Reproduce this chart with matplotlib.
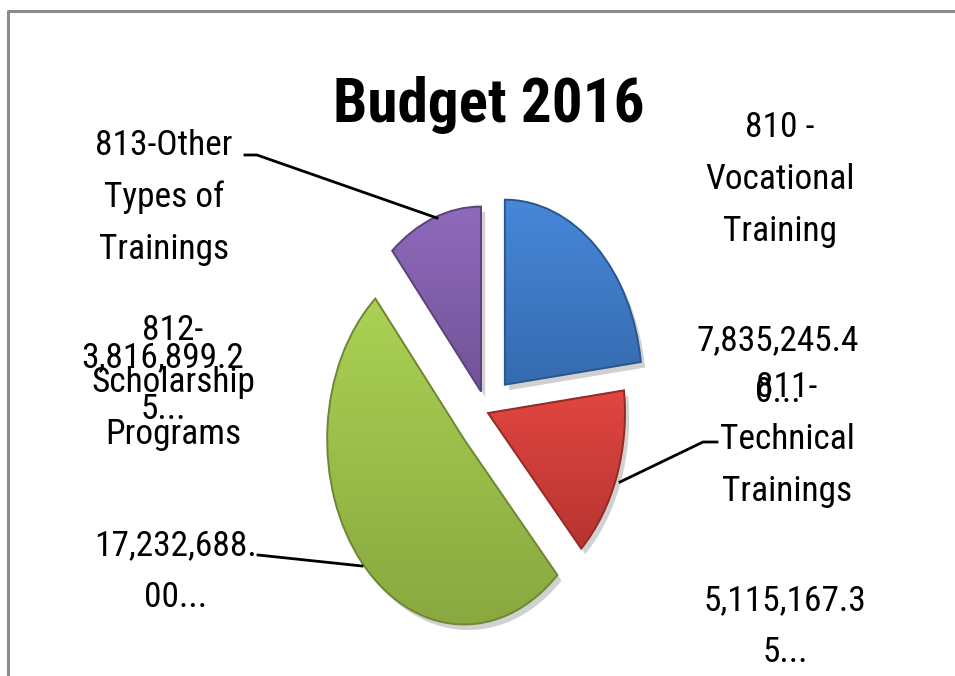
import numpy as np
import matplotlib
matplotlib.use('Agg')
import matplotlib.pyplot as plt
import matplotlib.patheffects as pe
from matplotlib.patches import PathPatch
from matplotlib.lines import Line2D
from matplotlib.colors import to_rgb
from matplotlib import font_manager

# data
names = ['810 -\nVocational\nTraining', '811-\nTechnical\nTrainings',
         '812-\nScholarship\nPrograms', '813-Other\nTypes of\nTrainings']
budget = [7835245.40, 5115167.35, 17232688.00, 3816899.25]
colors = ['#3B77C3', '#CB3A36', '#98BC47', '#7E5CA8']
explode = [0.2, 0.01, 0.22, 0.12]

W, H = 955, 676
have = {f.name for f in font_manager.fontManager.ttflist}
narrow = [f for f in ['Liberation Sans Narrow', 'Roboto Condensed', 'Open Sans Condensed']
          if f in have]
fam = (narrow[:1] or ['Liberation Sans']) + ['DejaVu Sans']

fig = plt.figure(figsize=(W / 100, H / 100), dpi=100)
ax = fig.add_axes([0, 0, 1, 1])

wedges, _ = ax.pie(budget, colors=colors, explode=explode, startangle=90,
                   counterclock=False, wedgeprops=dict(linewidth=0))

# excel-ish bevel: soft vertical gradient clipped to each slice + darker rim + shadow
for w, c in zip(wedges, colors):
    base = np.array(to_rgb(c))
    light = np.clip(base * 1.07 + 0.03, 0, 1)
    dark = base * 0.9
    t = np.linspace(0, 1, 64)[:, None, None]
    img = np.repeat(light * (1 - t) + dark * t, 2, axis=1)
    ext = w.get_path().get_extents()
    im = ax.imshow(img, extent=(ext.x0, ext.x1, ext.y0, ext.y1), aspect='auto',
                   interpolation='bilinear', zorder=2)
    im.set_clip_path(w)
    ax.add_patch(PathPatch(w.get_path(), fc='none', ec=base * 0.72, lw=1.4, zorder=3))
    w.set_path_effects([pe.SimplePatchShadow(offset=(3, -4), shadow_rgbFace='k', alpha=0.18),
                        pe.Normal()])

# squashed pie like the original (x and y scales differ)
cx, cy, sx, sy = 486.7, 412.4, 137.0, 185.0
ax.set_aspect('auto')
ax.set_xlim(-cx / sx, (W - cx) / sx)
ax.set_ylim((cy - H) / sy, cy / sy)
ax.axis('off')


def px(x, y):
    return x / W, 1 - y / H


def put(x, y, s, **kw):
    fx, fy = px(x, y)
    fig.text(fx, fy, s, ha='center', va='baseline', family=fam, **kw)


def leader(pts):
    xs, ys = zip(*[px(x, y) for x, y in pts])
    fig.add_artist(Line2D(xs, ys, transform=fig.transFigure, color='black', lw=2))


is_narrow = bool(narrow)
fs = 25.5 if is_narrow else 21
put(489, 122, 'Budget 2016', fontsize=44 if is_narrow else 38, weight='bold')

step = 52
name_pos = [(780, 137), (787, 397), (173, 340), (164, 155)]
value_pos = [(778, 350), (785, 610), (176, 555), (163, 367)]
for nm, (x, y) in zip(names, name_pos):
    for i, line in enumerate(nm.split('\n')):
        put(x, y + i * step, line, fontsize=fs)
for v, (x, y) in zip(budget, value_pos):
    s = f"{v:,.2f}"
    put(x, y, s[:11], fontsize=fs)
    put(x, y + step, s[11:] + '...', fontsize=fs)

leader([(245, 155), (257, 155), (437, 218)])
leader([(717, 442), (703, 442), (620, 482)])
leader([(258, 555), (362, 566)])

# frame edge (top and left only visible)
fig.add_artist(Line2D([8 / W, 8 / W, 1], [0, 1 - 11 / H, 1 - 11 / H],
                      transform=fig.transFigure, color='#8C8C8C', lw=2.2))

fig.savefig('out.png', dpi=100)
